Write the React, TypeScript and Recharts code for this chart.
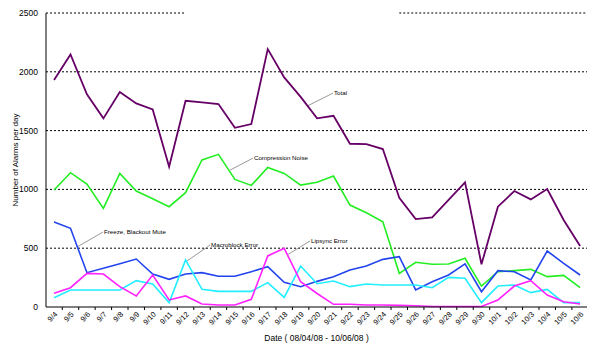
import React from 'react'
import { LineChart, Line, XAxis, YAxis, ReferenceLine, ReferenceDot } from 'recharts'

const dates = [
  '9/4', '9/5', '9/6', '9/7', '9/8', '9/9', '9/10', '9/11', '9/12', '9/13', '9/14',
  '9/15', '9/16', '9/17', '9/18', '9/19', '9/20', '9/21', '9/22', '9/23', '9/24', '9/25',
  '9/26', '9/27', '9/28', '9/29', '9/30', '10/1', '10/2', '10/3', '10/4', '10/5', '10/6',
]

const total = [
  1930, 2148, 1808, 1604, 1828, 1731, 1680, 1193, 1754, 1740, 1726,
  1524, 1556, 2193, 1952, 1787, 1604, 1626, 1388, 1385, 1343, 929,
  748, 762, 910, 1060, 363, 853, 986, 915, 1003, 740, 519,
]
const compression = [
  995, 1142, 1045, 839, 1136, 986, 921, 853, 972, 1250, 1298,
  1085, 1034, 1187, 1136, 1037, 1060, 1113, 867, 802, 725, 286,
  380, 363, 366, 414, 178, 300, 309, 320, 258, 269, 164,
]
const freeze = [
  722, 669, 292, 329, 368, 408, 280, 235, 280, 292, 261,
  261, 300, 343, 210, 173, 218, 258, 314, 348, 405, 428,
  145, 215, 272, 366, 130, 309, 300, 230, 476, 371, 272,
]
const macroblock = [
  79, 145, 145, 145, 145, 224, 196, 37, 400, 150, 133,
  133, 133, 207, 82, 348, 198, 221, 173, 196, 187, 187,
  187, 164, 252, 244, 37, 178, 187, 122, 150, 37, 37,
]
const lipsync = [
  116, 164, 286, 280, 173, 94, 272, 60, 94, 26, 17,
  17, 65, 434, 499, 215, 115, 23, 23, 17, 17, 14,
  11, 4, 4, 4, 4, 60, 178, 224, 102, 45, 26,
]

const yTicks = [0, 500, 1000, 1500, 2000, 2500]

// callouts: [label, leader start (idx, value), leader end / text anchor]
const callouts: [string, number, number, number, number][] = [
  ['Total', 15.39, 1708, 16.97, 1819],
  ['Compression Noise', 10.71, 1164, 12.1, 1266],
  ['Freeze, Blackout Mute', 1.4, 510, 2.98, 638],
  ['Macroblock Error', 8.09, 391, 9.49, 527],
  ['Lipsync Error', 14.17, 442, 15.57, 561],
]

const data = dates.map((d, i) => ({
  i,
  date: d,
  total: total[i],
  compression: compression[i],
  freeze: freeze[i],
  macroblock: macroblock[i],
  lipsync: lipsync[i],
}))

const W = 600
const H = 350
const M = { top: 13, right: 13, left: 0, bottom: 0 }
const Y_W = 46
const X_H = 43
const DOMAIN: [number, number] = [-0.49, 32.42]
const STEP = (W - M.left - M.right - Y_W) / (DOMAIN[1] - DOMAIN[0])
const FONT = '"Liberation Sans", Arial, sans-serif'

const DateTick = (props: any) => {
  const { x, y, payload } = props
  const half = STEP / 2
  return (
    <g>
      {payload.value < dates.length - 1 && (
        <line x1={x + half} y1={y - 5} x2={x + half} y2={y - 2} stroke="#000" />
      )}
      <g transform={`translate(${x + 1},${y})`}>
        <text x={0} y={0} dy={4} textAnchor="end" transform="rotate(-45)" fontSize={7.5} fill="#000" fontFamily={FONT}>
          {dates[payload.value]}
        </text>
      </g>
    </g>
  )
}

const App = () => {
  return (
    <div style={{ position: 'absolute', left: 0, top: 0, background: '#fff' }}>
      <LineChart width={W} height={H} data={data} margin={M}>
        <XAxis
          dataKey="i"
          type="number"
          domain={DOMAIN}
          allowDataOverflow
          ticks={dates.map((_, i) => i)}
          interval={0}
          tick={<DateTick />}
          tickLine={false}
          tickSize={3}
          tickMargin={2}
          height={X_H}
          axisLine={{ stroke: '#000' }}
          label={{ value: 'Date ( 08/04/08 - 10/06/08 )', position: 'insideBottom', offset: 9, fontSize: 8.5, fill: '#000', fontFamily: FONT }}
        />
        <YAxis
          domain={[0, 2500]}
          ticks={yTicks}
          width={Y_W}
          tickLine={false}
          tickSize={0}
          tickMargin={8}
          axisLine={{ stroke: '#000' }}
          tick={{ fontSize: 8.5, fill: '#000', fontFamily: FONT }}
          label={{ value: 'Number of Alarms per day', angle: -90, position: 'insideLeft', offset: 15, fontSize: 8, fill: '#000', fontFamily: FONT, style: { textAnchor: 'middle' } }}
        />
        {yTicks.slice(1, 5).map((v) => (
          <ReferenceLine key={v} y={v} stroke="#000" strokeDasharray="2 2" />
        ))}
        <ReferenceLine segment={[{ x: DOMAIN[0], y: 2500 }, { x: 7.97, y: 2500 }]} stroke="#000" strokeDasharray="2 2" />
        <ReferenceLine segment={[{ x: 21, y: 2500 }, { x: DOMAIN[1], y: 2500 }]} stroke="#000" strokeDasharray="2 2" />
        {callouts.map(([label, x1, y1, x2, y2]) => (
          <ReferenceLine key={`l-${label}`} segment={[{ x: x1, y: y1 }, { x: x2, y: y2 }]} stroke="#999" />
        ))}
        <Line dataKey="total" stroke="#660066" strokeWidth={1.8} dot={false} isAnimationActive={false} />
        <Line dataKey="compression" stroke="#22ee22" strokeWidth={1.6} dot={false} isAnimationActive={false} />
        <Line dataKey="freeze" stroke="#2244ee" strokeWidth={1.6} dot={false} isAnimationActive={false} />
        <Line dataKey="macroblock" stroke="#22eeff" strokeWidth={1.6} dot={false} isAnimationActive={false} />
        <Line dataKey="lipsync" stroke="#ff22ff" strokeWidth={1.6} dot={false} isAnimationActive={false} />
        {callouts.map(([label, , , x2, y2]) => (
          <ReferenceDot
            key={`t-${label}`}
            x={x2}
            y={y2}
            r={0}
            shape={(p: any) => (
              <text x={p.cx + 1} y={p.cy} dy={2} fontSize={6.2} fill="#000" fontFamily={FONT}>
                {label}
              </text>
            )}
          />
        ))}
      </LineChart>
    </div>
  )
}

export default App
